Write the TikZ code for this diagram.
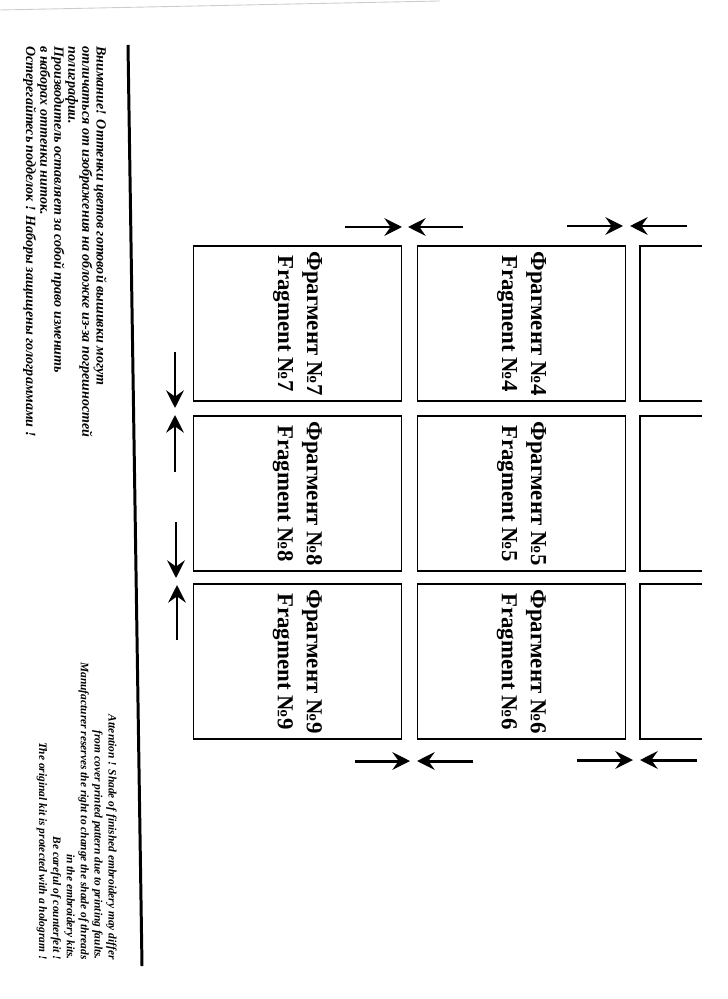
\documentclass[tikz,border=0pt]{standalone}
\usepackage{fontspec}
\setmainfont{Liberation Serif}
\usetikzlibrary{arrows.meta}

\tikzset{
  frag/.style={draw, line width=0.8pt, rotate=-90, minimum width=3.1cm,
    minimum height=4.16cm, inner sep=0pt, align=center,
    font=\bfseries\fontsize{13}{16.5}\selectfont},
  pinch/.style={line width=1.7pt, -{Stealth[length=10pt, width=10pt, inset=3.5pt]}},
  notes/.style={rotate=-90, inner sep=0pt, font=\bfseries\itshape},
}

\begin{document}
\begin{tikzpicture}[x=0.02cm, y=-0.02cm]
    \useasboundingbox (0,0) rectangle (727,999);
    % scan edge
    \draw[gray!40, line width=0.5pt] (0,10) -- (440,1);
    % margin rule
    \coordinate (ruletop) at (128,45);
    \coordinate (rulebot) at (142,966);
    \draw[line width=1.7pt] (ruletop) -- (rulebot);

    % notes
    \node[notes, anchor=north west, align=left,
        font=\bfseries\itshape\fontsize{8}{8}\selectfont] (noteru) at (107,46) {%
        Внимание! Оттенки цветов готовой вышивки могут\\
        отличаться от изображения на обложке из-за погрешностей\\
        полиграфии.\\
        Производитель оставляет за собой право изменить\\
        в наборах оттенки ниток.\\
        Остерегайтесь подделок ! Наборы защищены голограммами !};
    \node[notes, anchor=north east, align=right,
        font=\bfseries\itshape\fontsize{6.5}{7.9}\selectfont] (noteen) at (117,960) {%
        Attention ! Shade of finished embroidery may differ\\
        from cover printed pattern due to printing faults.\\
        Manufacturer reserves the right to change the shade of threads\\
        in the embroidery kits.\\
        Be careful of counterfeit !\\
        The original kit is protected with a hologram !};

    % fragments
    \node[frag] (frag4) at (521.5,323.5) {Фрагмент №4\\Fragment №4};
    \node[frag] (frag5) at (521.5,493.5) {Фрагмент №5\\Fragment №5};
    \node[frag] (frag6) at (521.5,661.5) {Фрагмент №6\\Fragment №6};
    \node[frag] (frag7) at (297.5,323.5) {Фрагмент №7\\Fragment №7};
    \node[frag] (frag8) at (297.5,493.5) {Фрагмент №8\\Fragment №8};
    \node[frag] (frag9) at (297.5,661.5) {Фрагмент №9\\Fragment №9};
    % next column, cut off by the page
    \foreach \ya/\yb in {246/401, 416/571, 584/739}
        \draw[line width=0.8pt] (702,\ya) -| (640,\yb) -- (702,\yb);

    % joining marks
    \foreach \nm/\ax/\ay/\bx/\by in {
        ta/345/227/402/227, tb/463/227/408/227,
        tc/567/226/623/226, td/687/226/630/226,
        ba/355/761/410/761, bb/473/761/417/761,
        bc/577/760/633/760, bd/697/760/640/760,
        la/175/352/175/408, lb/175/472/175/415,
        lc/176/522/176/578, ld/177/640/177/585} {
        \coordinate (\nm s) at (\ax,\ay);
        \coordinate (\nm e) at (\bx,\by);
        \draw[pinch] (\nm s) -- (\nm e);
    }
\end{tikzpicture}
\end{document}
